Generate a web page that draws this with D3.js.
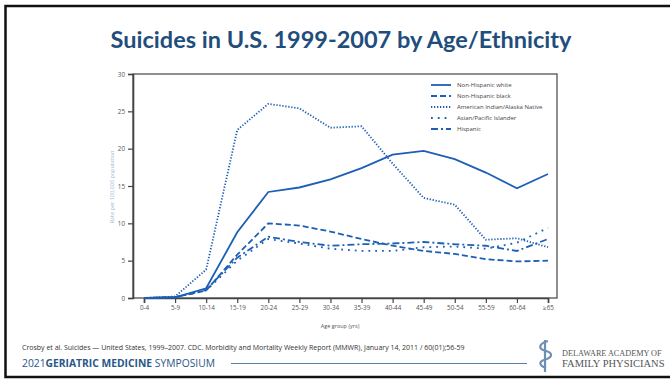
<!DOCTYPE html>
<html>
<head>
<meta charset="utf-8">
<script src="https://cdn.jsdelivr.net/npm/d3@7"></script>
<style>
  body { margin: 0; background: #fff; }
  svg { display: block; }
</style>
</head>
<body>
<figure id="chart" style="margin:0"></figure>
<script>
// age groups on the x axis
const ageGroups = ["0-4", "5-9", "10-14", "15-19", "20-24", "25-29", "30-34", "35-39",
  "40-44", "45-49", "50-54", "55-59", "60-64", "≥65"];
const yTicks = [0, 5, 10, 15, 20, 25, 30];

// rates per 100,000
const nhWhite = [0, 0.1, 1.3, 8.8, 14.2, 14.8, 15.9, 17.4, 19.2, 19.7, 18.6, 16.8, 14.7, 16.6];
const nhBlack = [0, 0.1, 1.0, 5.8, 10.0, 9.7, 8.9, 7.9, 7.0, 6.3, 5.9, 5.2, 4.9, 5.0];
const aian = [0, 0.2, 3.8, 22.5, 26.0, 25.4, 22.8, 23.0, 18.0, 13.4, 12.5, 7.8, 8.0, 6.8];
const asianPI = [0, 0.1, 1.0, 5.0, 7.9, 7.3, 6.6, 6.3, 6.3, 6.8, 6.9, 6.6, 7.4, 9.4];
const hispanic = [0, 0.1, 1.1, 5.4, 8.2, 7.5, 7.0, 7.2, 7.3, 7.5, 7.2, 7.0, 6.3, 7.9];

const seriesNames = ["Non-Hispanic white", "Non-Hispanic black", "American Indian/Alaska Native",
  "Asian/Pacific Islander", "Hispanic"];
const seriesValues = [nhWhite, nhBlack, aian, asianPI, hispanic];
const dashes = [null, "6,3", "1.3,1.7", "1.8,5", "7,3,2,3"];

const W = 670, H = 380;
const lineColor = "#1d5fb5";

const svg = d3.select("#chart").append("svg")
  .attr("width", W).attr("height", H);

// slide frame
svg.append("rect").attr("x", 5.5).attr("y", 6).attr("width", W).attr("height", 371)
  .attr("fill", "none").attr("stroke", "#111").attr("stroke-width", 2.5);

// title
svg.append("text").attr("x", 341).attr("y", 48).attr("text-anchor", "middle")
  .style("font-family", "Lato").style("font-weight", "bold").style("font-size", "23.5px")
  .attr("fill", "#1f4e7d").text("Suicides in U.S. 1999-2007 by Age/Ethnicity");

// plot
const plotL = 133, plotR = 557, plotT = 74, plotB = 298;
const x = d3.scalePoint().domain(ageGroups).range([144, 548]);
const y = d3.scaleLinear().domain([0, 30]).range([plotB, plotT]);

svg.append("rect").attr("x", plotL).attr("y", plotT).attr("width", plotR - plotL).attr("height", plotB - plotT)
  .attr("fill", "none").attr("stroke", "#444").attr("stroke-width", 1.2);

const xAxis = svg.append("g").attr("transform", "translate(0," + plotB + ")")
  .call(d3.axisBottom(x).tickSize(5).tickPadding(3));
const yAxis = svg.append("g").attr("transform", "translate(" + plotL + ",0)")
  .call(d3.axisLeft(y).tickValues(yTicks).tickSize(5).tickPadding(3));
[xAxis, yAxis].forEach(a => {
  a.select(".domain").attr("stroke", "#444").attr("stroke-width", 1.6);
  a.selectAll(".tick line").attr("stroke", "#444").attr("stroke-width", 1.2);
  a.selectAll("text").attr("fill", "#555").style("font-family", "Open Sans").style("font-size", "6.3px");
});

svg.append("text").attr("x", 340).attr("y", 328).attr("text-anchor", "middle")
  .style("font-family", "Open Sans").style("font-size", "5.5px").attr("fill", "#555")
  .text("Age group (yrs)");
svg.append("text").attr("transform", "translate(114,187) rotate(-90)").attr("text-anchor", "middle")
  .style("font-family", "Open Sans").style("font-size", "5.5px").attr("fill", "#9cb8d8")
  .text("Rate per 100,000 population");

const line = d3.line().x((d, i) => x(ageGroups[i])).y(d => y(d));
seriesValues.forEach((vals, k) => {
  svg.append("path").datum(vals).attr("d", line)
    .attr("fill", "none").attr("stroke", lineColor).attr("stroke-width", 1.8)
    .attr("stroke-dasharray", dashes[k]);
});

// legend
const legend = svg.append("g");
seriesNames.forEach((name, k) => {
  const ly = 85 + k * 11;
  legend.append("line").attr("x1", 431).attr("x2", 451).attr("y1", ly).attr("y2", ly)
    .attr("stroke", lineColor).attr("stroke-width", 1.8).attr("stroke-dasharray", dashes[k]);
  legend.append("text").attr("x", 457).attr("y", ly + 2)
    .style("font-family", "Open Sans").style("font-size", "6px").attr("fill", "#444").text(name);
});

// footer
svg.append("text").attr("x", 22).attr("y", 350)
  .style("font-family", "Open Sans").style("font-size", "7px").attr("fill", "#333")
  .text("Crosby et al.  Suicides — United States, 1999–2007. CDC. Morbidity and Mortality Weekly Report (MMWR), January 14, 2011 / 60(01);56-59");
const sym = svg.append("text").attr("x", 22).attr("y", 367)
  .style("font-family", "Open Sans").style("font-size", "10.3px").attr("fill", "#2a5688");
sym.append("tspan").text("2021");
sym.append("tspan").style("font-weight", "bold").text("GERIATRIC MEDICINE");
sym.append("tspan").text(" SYMPOSIUM");
svg.append("line").attr("x1", 231).attr("x2", 527).attr("y1", 363.5).attr("y2", 363.5)
  .attr("stroke", "#5b7ea6").attr("stroke-width", 1);

// logo
const logo = svg.append("g").attr("fill", "none").attr("stroke", "#6c8fb4").attr("stroke-width", 2.2);
logo.append("line").attr("x1", 545).attr("x2", 545).attr("y1", 340).attr("y2", 372);
logo.append("path").attr("d", "M548,341 C538,344 538,349 546,351 C554,353 552,358 544,360 C538,362 540,366 546,368");
svg.append("text").attr("x", 562).attr("y", 356)
  .style("font-family", "Liberation Serif").style("font-size", "8.2px").attr("fill", "#555")
  .text("DELAWARE ACADEMY OF");
svg.append("text").attr("x", 562).attr("y", 367)
  .style("font-family", "Liberation Serif").style("font-size", "10.5px").attr("fill", "#555")
  .text("FAMILY PHYSICIANS");
</script>
</body>
</html>
